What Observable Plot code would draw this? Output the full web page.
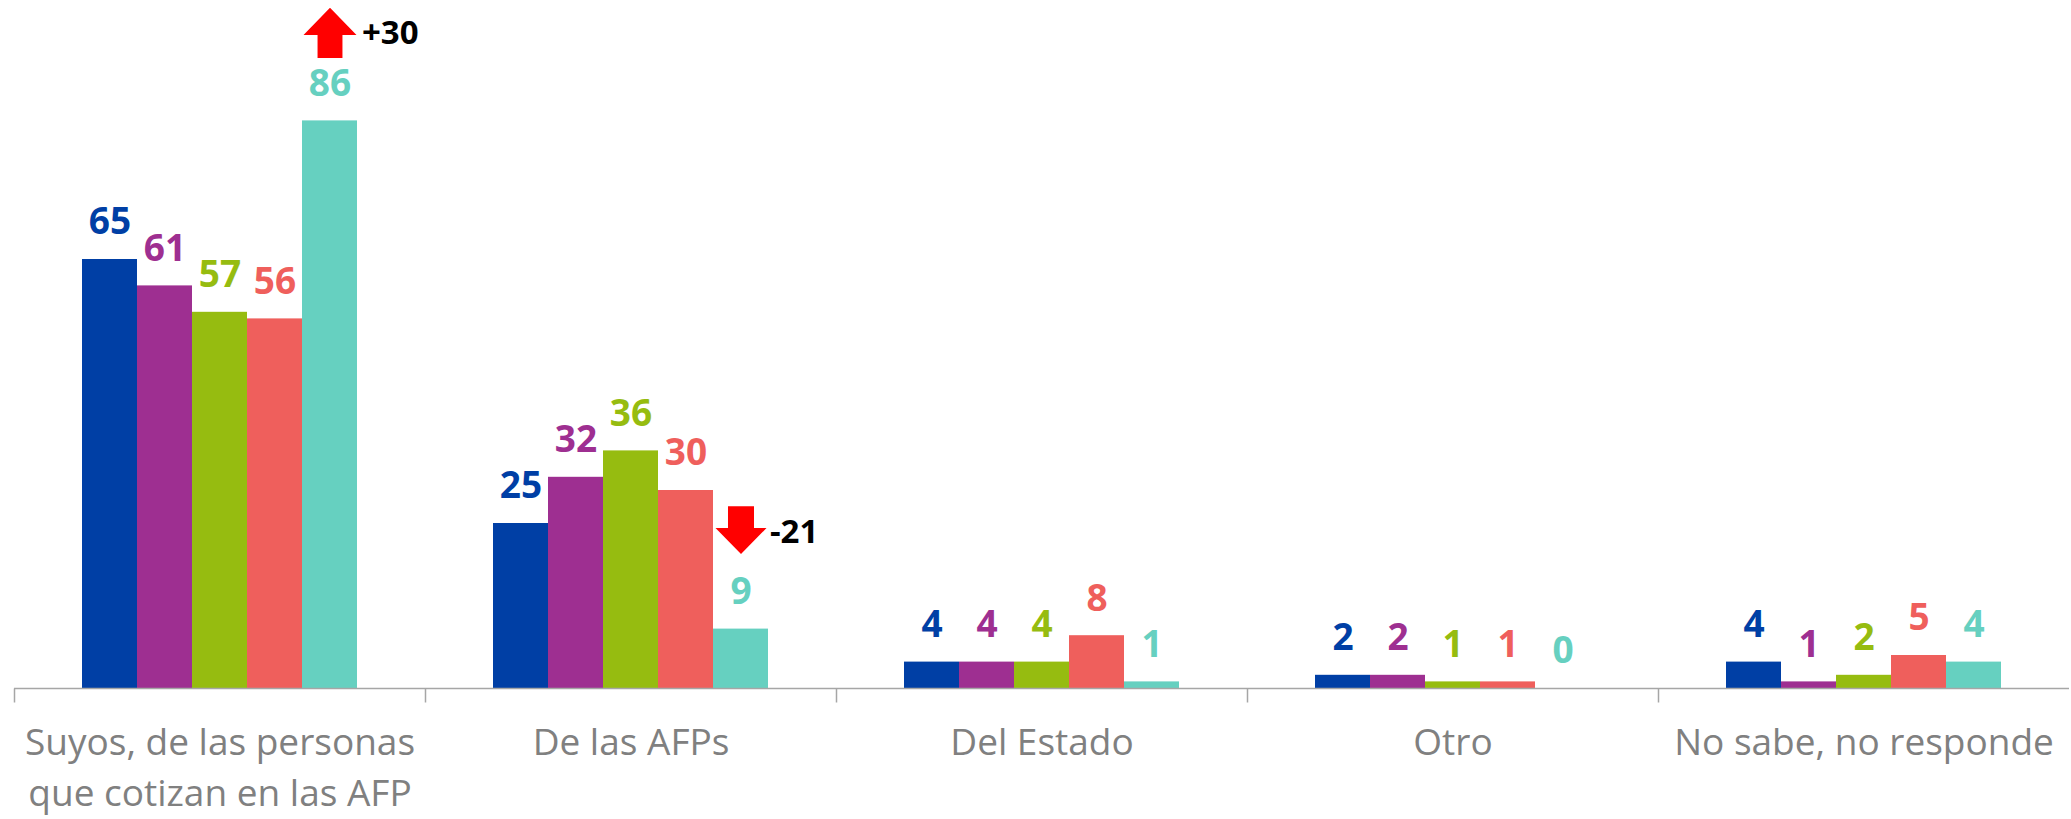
<!DOCTYPE html>
<html>
<head>
<meta charset="utf-8">
<script src="https://cdn.jsdelivr.net/npm/d3@7"></script>
<script src="https://cdn.jsdelivr.net/npm/@observablehq/plot@0.6"></script>
<style>
  html, body { margin: 0; padding: 0; background: #ffffff; overflow: hidden; }
  #chart svg { display: block; }
</style>
</head>
<body>
<div id="chart"></div>
<script>
// ---- Data ----
const categories = [
  "Suyos, de las personas\nque cotizan en las AFP",
  "De las AFPs",
  "Del Estado",
  "Otro",
  "No sabe, no responde"
];
const series = ["Medición 1", "Medición 2", "Medición 3", "Medición 4", "Medición 5"];
const serie1 = [65, 25, 4, 2, 4];
const serie2 = [61, 32, 4, 2, 1];
const serie3 = [57, 36, 4, 1, 2];
const serie4 = [56, 30, 8, 1, 5];
const serie5 = [86, 9, 1, 0, 4];
const seriesColors = ["#003FA5", "#9E2F91", "#96BC10", "#EF5F5C", "#66D0C0"];

// change annotations (arrows)
const changeCategories = [categories[0], categories[1]];
const changeSeries = [series[4], series[4]];
const changeBarValues = [86, 9];
const changeLabels = ["+30", "-21"];
const changeDirections = ["up", "down"];

// ---- Build table ----
const allValues = [serie1, serie2, serie3, serie4, serie5];
const rows = categories.flatMap((c, i) =>
  series.map((s, j) => ({category: c, series: s, value: allValues[j][i]}))
);
const changes = changeCategories.map((c, i) => ({
  category: c, series: changeSeries[i], value: changeBarValues[i],
  label: changeLabels[i], dir: changeDirections[i]
}));

// ---- Custom symbols ----
const upArrow = {
  draw(ctx, size) {
    const r = Math.sqrt(size / Math.PI);
    const top = -0.945 * r, bottom = 0.945 * r;
    const headY = top + 1.02 * r, sh = 0.47 * r;
    ctx.moveTo(0, top);
    ctx.lineTo(r, headY);
    ctx.lineTo(sh, headY);
    ctx.lineTo(sh, bottom);
    ctx.lineTo(-sh, bottom);
    ctx.lineTo(-sh, headY);
    ctx.lineTo(-r, headY);
    ctx.closePath();
  }
};
const downArrow = {
  draw(ctx, size) {
    const r = Math.sqrt(size / Math.PI);
    const top = -0.94 * r, bottom = 0.94 * r;
    const headY = top + 0.86 * r, sh = 0.51 * r;
    ctx.moveTo(-sh, top);
    ctx.lineTo(sh, top);
    ctx.lineTo(sh, headY);
    ctx.lineTo(r, headY);
    ctx.lineTo(0, bottom);
    ctx.lineTo(-r, headY);
    ctx.lineTo(-sh, headY);
    ctx.closePath();
  }
};
const tickSymbol = {
  draw(ctx, size) {
    const r = Math.sqrt(size / Math.PI);
    ctx.moveTo(0, 0);
    ctx.lineTo(0, 2 * r);
  }
};

const font = "'Open Sans', Lato, sans-serif";

const arrowMarks = changes.flatMap(d => {
  const up = d.dir === "up";
  const dy = up ? -88 : -99;
  return [
    Plot.dot([d], {
      fx: "category", x: "series", y: "value", dy,
      symbol: up ? upArrow : downArrow, r: up ? 26.5 : 25.5,
      fill: "#FF0000", stroke: "none"
    }),
    Plot.text([d], {
      fx: "category", x: "series", y: "value", text: "label",
      dy: dy + (up ? 1 : 2), dx: up ? 32 : 29, textAnchor: "start",
      fontSize: 33, fontWeight: "bold", fill: "#000000", fontFamily: font
    })
  ];
});

const chart = Plot.plot({
  width: 2071,
  height: 819,
  marginLeft: 12,
  marginRight: 0,
  marginTop: 28,
  marginBottom: 131,
  style: {background: "#ffffff", fontFamily: font},
  fx: {domain: categories, padding: 0, axis: null},
  x: {domain: series, paddingInner: 0, paddingOuter: 1.23, axis: null},
  y: {domain: [0, 100], axis: null},
  color: {domain: series, range: seriesColors},
  marks: [
    Plot.barY(rows, {fx: "category", x: "series", y: "value", fill: "series"}),
    Plot.ruleY([0], {stroke: "#A6A6A6", strokeWidth: 1.5}),
    Plot.dot(categories, {
      fx: d => d, frameAnchor: "bottom-left", symbol: tickSymbol, r: 7,
      stroke: "#A6A6A6", strokeWidth: 1.5, fill: "none"
    }),
    Plot.text(rows, {
      fx: "category", x: "series", y: "value", text: d => String(d.value),
      fill: "series", dy: -37, fontSize: 37, fontWeight: "bold", fontFamily: font
    }),
    Plot.text(categories, {
      fx: d => d, text: d => d, frameAnchor: "bottom", lineAnchor: "top",
      dy: 30, fontSize: 37, lineHeight: 1.39, fill: "#808080", fontFamily: font
    }),
    ...arrowMarks
  ]
});

document.getElementById("chart").appendChild(chart);
</script>
</body>
</html>
